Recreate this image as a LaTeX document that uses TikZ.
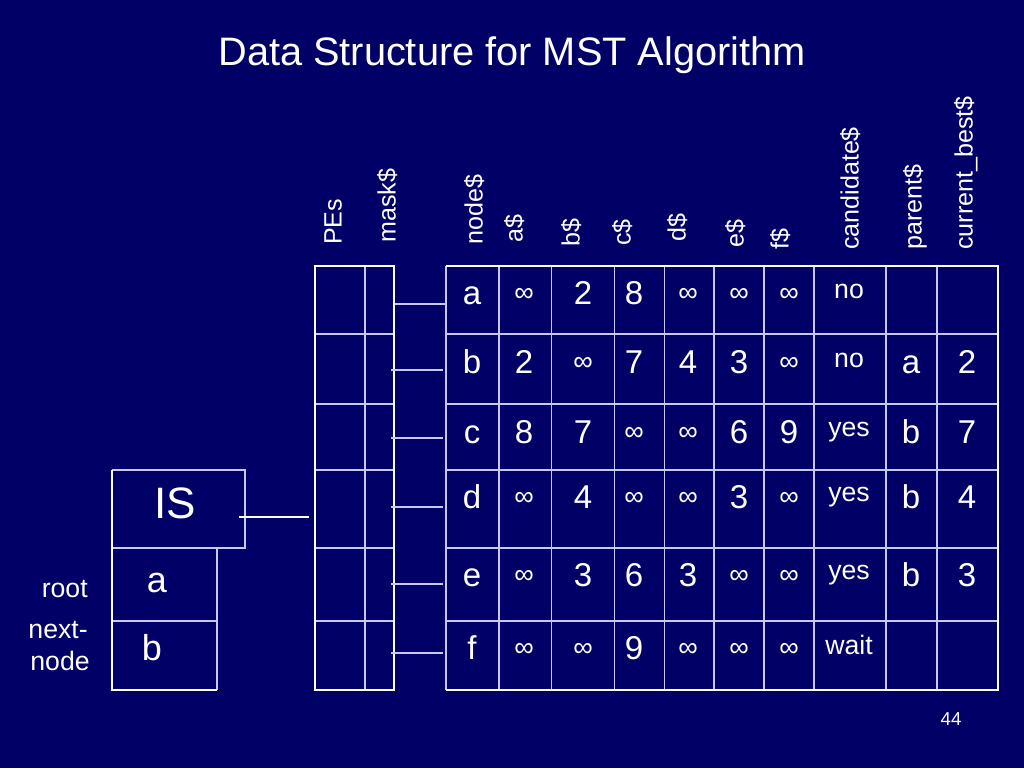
\documentclass[tikz,border=0pt]{standalone}
\usepackage{fontspec}
\setmainfont{Liberation Sans}
\definecolor{navy}{RGB}{0,0,102}
\definecolor{lav}{RGB}{200,200,240}
\newcommand{\oo}{{\fontsize{20.5}{24}\selectfont\raisebox{2.2pt}{∞}}}

\begin{document}
\begin{tikzpicture}[x=0.75pt,y=0.75pt,yscale=-1,xscale=1,
  frame/.style={draw=white,line width=2.2pt},
  grid/.style={draw=lav,line width=1.1pt},
  link/.style={draw=lav,line width=0.9pt},
  hdr/.style={rotate=90,anchor=mid west,inner sep=0pt,text=white,font=\fontsize{18.8}{22}\selectfont},
  cell/.style={anchor=base,inner sep=0pt,text=white,font=\fontsize{24.75}{30}\selectfont},
  cand/.style={anchor=base,inner sep=0pt,text=white,font=\fontsize{20}{24}\selectfont}]
\useasboundingbox (0,0) rectangle (1024,768);
\fill[navy] (0,0) rectangle (1024,768);

% Title
\node (title) [anchor=base,inner sep=0pt,text=white,font=\fontsize{29.8}{36}\selectfont] at (512,65) {Data Structure for MST Algorithm};

% Column headers
\node (hPE) [hdr] at (338,245) {PEs};
\node (hMask) [hdr] at (392,243) {mask\$};
\node (hNode) [hdr] at (479,245) {node\$};
\node (hA) [hdr] at (519,243) {a\$};
\node (hB) [hdr] at (576,247) {b\$};
\node (hC) [hdr] at (627,246) {c\$};
\node (hD) [hdr] at (682,242) {d\$};
\node (hE) [hdr] at (740,248) {e\$};
\node (hF) [hdr] at (785,250) {f\$};
\node (hCand) [hdr] at (855,250) {candidate\$};
\node (hPar) [hdr] at (918,250) {parent\$};
\node (hCur) [hdr] at (969,250) {current\_best\$};

% PEs / mask table
\draw[grid] (365,266) -- (365,690);
\draw[grid] (315,334) -- (394,334);
\draw[grid] (315,404) -- (394,404);
\draw[grid] (315,470) -- (394,470);
\draw[grid] (315,548) -- (394,548);
\draw[grid] (315,621) -- (394,621);
\draw[frame] (315,266) rectangle (394,690);

% Main table
\draw[grid] (499,266) -- (499,690);
\draw[grid] (551.5,266) -- (551.5,690);
\draw[grid] (614.5,266) -- (614.5,690);
\draw[grid] (664.5,266) -- (664.5,690);
\draw[grid] (714,266) -- (714,690);
\draw[grid] (764,266) -- (764,690);
\draw[grid] (814,266) -- (814,690);
\draw[grid] (886,266) -- (886,690);
\draw[grid] (937,266) -- (937,690);
\draw[grid] (446,334) -- (998,334);
\draw[grid] (446,404) -- (998,404);
\draw[grid] (446,470) -- (998,470);
\draw[grid] (446,548) -- (998,548);
\draw[grid] (446,621) -- (998,621);
\draw[grid] (446,266) -- (446,690);
\draw[frame] (446,266) -- (998,266) -- (998,690) -- (446,690);

% Rows
\foreach \cx/\ct [count=\j] in {472/a,524/\oo,583/2,634/8,688/\oo,739/\oo,789/\oo}
  \node (a\j) [cell] at (\cx,304) {\ct};
\node (aCand) [cand] at (849,298) {no};

\foreach \cx/\ct [count=\j] in {472/b,524/2,583/\oo,634/7,688/4,739/3,789/\oo,911/a,967/2}
  \node (b\j) [cell] at (\cx,373) {\ct};
\node (bCand) [cand] at (849,367) {no};

\foreach \cx/\ct [count=\j] in {472/c,524/8,583/7,634/\oo,688/\oo,739/6,789/9,911/b,967/7}
  \node (c\j) [cell] at (\cx,443) {\ct};
\node (cCand) [cand] at (849,436) {yes};

\foreach \cx/\ct [count=\j] in {472/d,524/\oo,583/4,634/\oo,688/\oo,739/3,789/\oo,911/b,967/4}
  \node (d\j) [cell] at (\cx,508) {\ct};
\node (dCand) [cand] at (849,501) {yes};

\foreach \cx/\ct [count=\j] in {472/e,524/\oo,583/3,634/6,688/3,739/\oo,789/\oo,911/b,967/3}
  \node (e\j) [cell] at (\cx,586) {\ct};
\node (eCand) [cand] at (849,579) {yes};

\foreach \cx/\ct [count=\j] in {472/f,524/\oo,583/\oo,634/9,688/\oo,739/\oo,789/\oo}
  \node (f\j) [cell] at (\cx,659) {\ct};
\node (fCand) [cand] at (849,654) {wait};

% Links mask -> rows
\coordinate (mA) at (395,304); \coordinate (tA) at (446,304);
\coordinate (mB) at (391,370); \coordinate (tB) at (443,370);
\coordinate (mC) at (391,438); \coordinate (tC) at (443,438);
\coordinate (mD) at (391,507); \coordinate (tD) at (443,507);
\coordinate (mE) at (391,584); \coordinate (tE) at (443,584);
\coordinate (mF) at (391,653); \coordinate (tF) at (443,653);
\draw[link] (mA) -- (tA);
\draw[link] (mB) -- (tB);
\draw[link] (mC) -- (tC);
\draw[link] (mD) -- (tD);
\draw[link] (mE) -- (tE);
\draw[link] (mF) -- (tF);

% IS box
\draw[grid] (112,470) -- (245,470) -- (245,548) -- (112,548);
\draw[grid] (112,621) -- (217,621);
\draw[grid,line width=1.6pt] (217,548) -- (217,690);
\draw[frame] (112,470) -- (112,690) -- (217,690);
\node (is) [anchor=base,inner sep=0pt,text=white,font=\fontsize{33}{40}\selectfont] at (175,518) {IS};
\node (root) [anchor=base,inner sep=0pt,text=white,font=\fontsize{27}{32}\selectfont] at (157,592) {a};
\node (next) [anchor=base,inner sep=0pt,text=white,font=\fontsize{27}{32}\selectfont] at (152,660) {b};
\coordinate (isR) at (239,517); \coordinate (peL) at (309,517);
\draw[draw=white,line width=0.8pt] (isR) -- (peL);

% Side labels
\node (lRoot) [anchor=base east,inner sep=0pt,text=white,font=\fontsize{20}{24}\selectfont] at (88,597) {root};
\node (lNext) [anchor=base east,inner sep=0pt,text=white,font=\fontsize{20}{24}\selectfont] at (88,638) {next-};
\node (lNode) [anchor=base east,inner sep=0pt,text=white,font=\fontsize{20}{24}\selectfont] at (90,670) {node};

% Page number
\node (page) [anchor=base,inner sep=0pt,text=white,font=\fontsize{14}{17}\selectfont] at (951,725) {44};
\end{tikzpicture}
\end{document}
